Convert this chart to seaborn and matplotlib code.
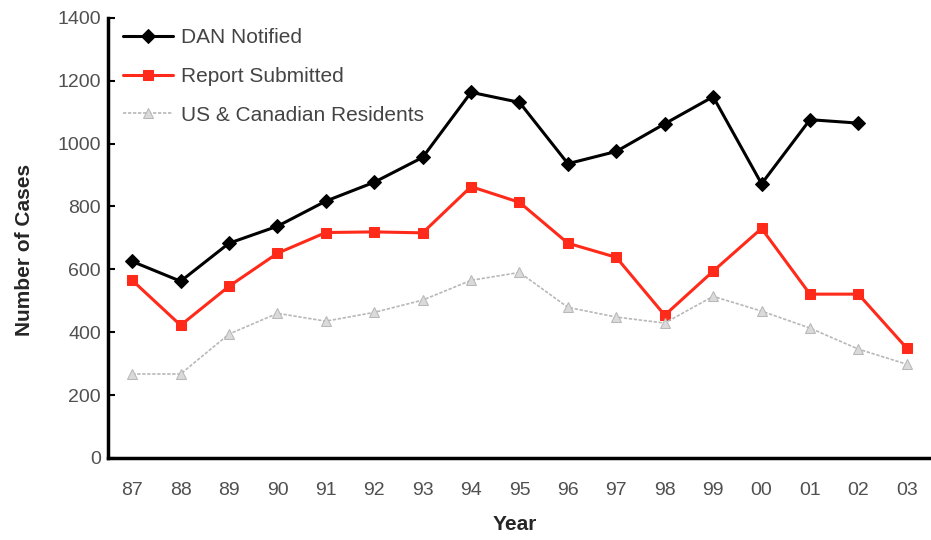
import matplotlib
matplotlib.use("Agg")
import matplotlib.pyplot as plt
import seaborn as sns
import numpy as np

years = ["87", "88", "89", "90", "91", "92", "93", "94", "95",
         "96", "97", "98", "99", "00", "01", "02", "03"]
dan_notified = [625, 562, 683, 737, 817, 877, 956, 1163, 1131,
                936, 975, 1063, 1149, 872, 1076, 1065]
report_submitted = [565, 422, 546, 651, 717, 719, 716, 863, 813,
                    683, 638, 454, 594, 730, 521, 521, 349]
us_canadian = [267, 267, 394, 460, 435, 463, 502, 565, 590,
               479, 448, 429, 514, 467, 413, 346, 298]

sns.set_style("white")
plt.rcParams["font.family"] = ["Liberation Sans", "DejaVu Sans"]

fig = plt.figure(figsize=(9.31, 5.40), dpi=100)
ax = fig.add_axes([0.116, 0.152, 0.884, 0.815])

pos = np.arange(len(years))

# DAN notified - black diamonds
sns.lineplot(x=pos[:len(dan_notified)], y=dan_notified, ax=ax, color="black",
             linewidth=2.2, marker="D", markersize=7, markeredgecolor="black",
             label="DAN Notified")
# report submitted - red squares
sns.lineplot(x=pos, y=report_submitted, ax=ax, color="#ff2a1a",
             linewidth=2.2, marker="s", markersize=7, markeredgecolor="#ff2a1a",
             label="Report Submitted")
# residents - light grey dotted with triangles
sns.lineplot(x=pos, y=us_canadian, ax=ax, color="#b8b8b8",
             linewidth=1.2, linestyle=(0, (2, 1)), marker="^", markersize=7,
             markerfacecolor="#dadada", markeredgecolor="#b8b8b8",
             label="US & Canadian Residents")

ax.set_xlim(-0.5, len(years) - 0.5)
ax.set_ylim(0, 1400)
ax.set_yticks(range(0, 1401, 200))

# tick marks between categories, labels at centres
ax.set_xticks(np.arange(0.5, len(years) - 0.5, 1))
ax.set_xticklabels([])
ax.set_xticks(pos, minor=True)
ax.set_xticklabels(years, minor=True)
ax.tick_params(axis="x", which="major", direction="in", length=5, width=1.5,
               color="black")
ax.tick_params(axis="x", which="minor", length=0, pad=17, labelsize=14,
               labelcolor="#505050")
ax.tick_params(axis="y", direction="in", length=5, width=1.5, color="black",
               pad=5, labelsize=14, labelcolor="#505050", left=True)

for side in ["top", "right"]:
    ax.spines[side].set_visible(False)
for side in ["left", "bottom"]:
    ax.spines[side].set_color("black")
    ax.spines[side].set_linewidth(2.5)

ax.set_xlabel("Year", fontsize=15, fontweight="bold")
ax.xaxis.set_label_coords(0.494, -0.13)
ax.set_ylabel("Number of Cases", fontsize=15, fontweight="bold")
ax.yaxis.set_label_coords(-0.090, 0.473)

leg = ax.legend(loc="upper left", bbox_to_anchor=(0.0, 1.01), frameon=False,
                fontsize=15, handlelength=2.4, labelspacing=0.95,
                handletextpad=0.4, borderaxespad=0.3)
for t in leg.get_texts():
    t.set_color("#444444")

fig.savefig("out.png", dpi=100)
